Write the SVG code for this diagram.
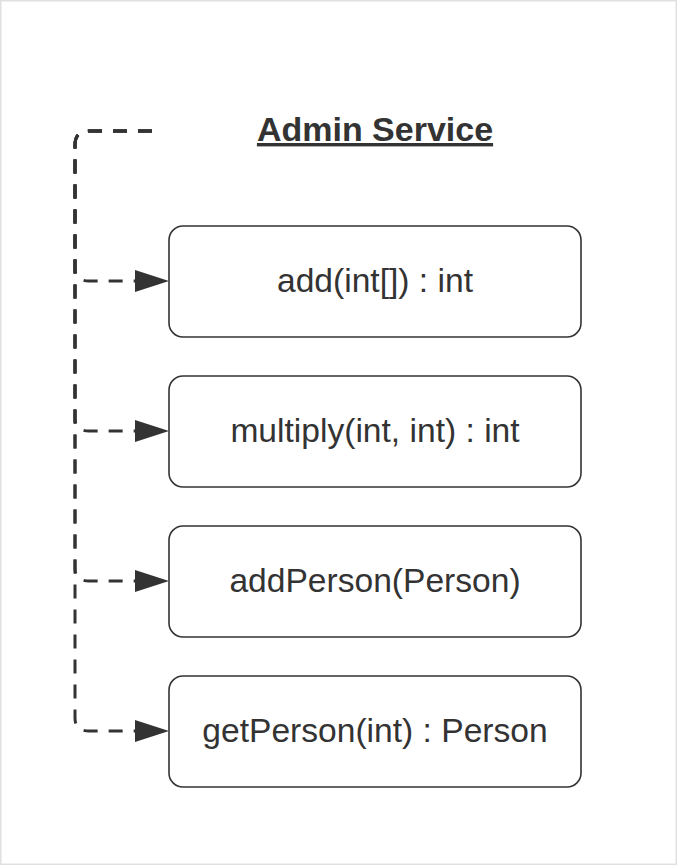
<svg xmlns="http://www.w3.org/2000/svg" width="677" height="865" viewBox="0 0 677 865">
<style>
.frame{fill:#ffffff;stroke:#e0e0e0;stroke-width:1.5}
.box{fill:#ffffff;stroke:#333333;stroke-width:1.6}
.lbl{font-family:"Liberation Sans",Arial,sans-serif;font-size:33.6px;fill:#333333;text-anchor:middle}
.title{font-family:"Liberation Sans",Arial,sans-serif;font-size:34px;font-weight:bold;fill:#333333;text-anchor:middle;text-decoration:underline}
.conn{fill:none;stroke:#333333;stroke-width:3;stroke-dasharray:14 11}
</style>
<defs>
<marker id="arrow" markerUnits="userSpaceOnUse" markerWidth="36" markerHeight="24" viewBox="0 -12 36 24" refX="0" refY="0" orient="auto">
<path d="M0,-11 L34,0 L0,11 Z" fill="#333333"/>
</marker>
</defs>
<rect class="frame" x="0.75" y="0.75" width="675.5" height="863.5"/>
<g id="title">
<text class="title" x="375" y="141">Admin Service</text>
</g>
<g id="connectors">
<path class="conn" d="M152,131 H89 Q75,131 75,145 V268 Q75,281 89,281 H135" marker-end="url(#arrow)"/>
<path class="conn" d="M152,131 H89 Q75,131 75,145 V418 Q75,431 89,431 H135" marker-end="url(#arrow)"/>
<path class="conn" d="M152,131 H89 Q75,131 75,145 V568 Q75,581 89,581 H135" marker-end="url(#arrow)"/>
<path class="conn" d="M152,131 H89 Q75,131 75,145 V718 Q75,731 89,731 H135" marker-end="url(#arrow)"/>
</g>
<g id="node-add">
<rect class="box" x="169" y="226" width="412" height="111" rx="14"/>
<text class="lbl" x="375" y="292">add(int[]) : int</text>
</g>
<g id="node-multiply">
<rect class="box" x="169" y="376" width="412" height="111" rx="14"/>
<text class="lbl" x="375" y="442">multiply(int, int) : int</text>
</g>
<g id="node-addPerson">
<rect class="box" x="169" y="526" width="412" height="111" rx="14"/>
<text class="lbl" x="375" y="592">addPerson(Person)</text>
</g>
<g id="node-getPerson">
<rect class="box" x="169" y="676" width="412" height="111" rx="14"/>
<text class="lbl" x="375" y="742">getPerson(int) : Person</text>
</g>
</svg>
